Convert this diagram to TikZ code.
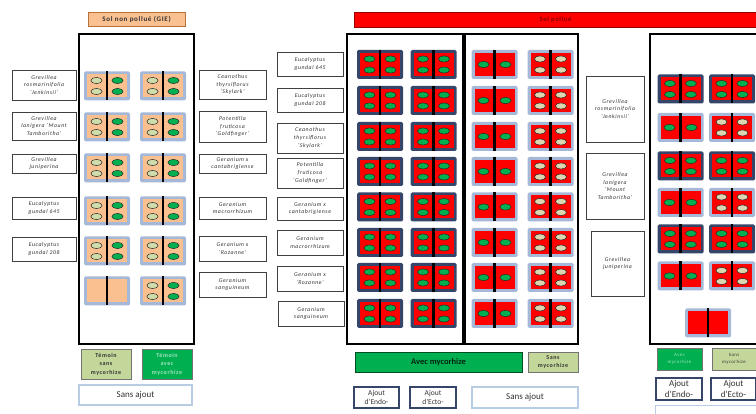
\documentclass[tikz,border=0pt]{standalone}
\usepackage{fontspec}
\setmainfont{Carlito}
\newfontfamily\lblfont[LetterSpace=10]{Carlito}
\definecolor{peach}{HTML}{FAC090}
\definecolor{peachbd}{HTML}{B7723A}
\definecolor{potred}{HTML}{FF0000}
\definecolor{dgreen}{HTML}{00B050}
\definecolor{lgreen}{HTML}{C4D79B}
\definecolor{elgreen}{HTML}{CFDDAA}
\definecolor{beige}{HTML}{DDD5B0}
\definecolor{navy}{HTML}{35466A}
\definecolor{lblue}{HTML}{A5B8D8}
\definecolor{sablue}{HTML}{B8CCE4}
\definecolor{txtgray}{HTML}{333333}
\newcommand\lbl[6]{\node[lblbox, minimum width={#4-#2}, minimum height={#5-#3}] (#1) at ({(#2+#4)/2},{(#3+#5)/2}) {#6};}
\tikzset{
  pics/pot/.style args={#1/#2}{code={
    \fill[#1, rounded corners=1.5] (-23,-14.5) rectangle (23,14.5);
    \fill[#2] (-20,-11.5) rectangle (20,11.5);
    \draw[line width=2.6] (0,-14.5) -- (0,14.5);
  }},
  pics/four/.style args={#1/#2}{code={
    \filldraw[fill=#1, draw=black!85, line width=0.5] (-10.5,-5.5) ellipse [x radius=5.6, y radius=3.1];
    \filldraw[fill=#1, draw=black!85, line width=0.5] (-10.5,5.5) ellipse [x radius=5.6, y radius=3.1];
    \filldraw[fill=#2, draw=black!85, line width=0.5] (10.5,-5.5) ellipse [x radius=5.6, y radius=3.1];
    \filldraw[fill=#2, draw=black!85, line width=0.5] (10.5,5.5) ellipse [x radius=5.6, y radius=3.1];
  }},
  pics/two/.style={code={
    \filldraw[fill=dgreen, draw=black!85, line width=0.5] (-11,0) ellipse [x radius=5.6, y radius=3.2];
    \filldraw[fill=dgreen, draw=black!85, line width=0.5] (11,0) ellipse [x radius=5.6, y radius=3.2];
  }},
  lblbox/.style={draw=black!75, line width=0.6, fill=white, align=center, inner sep=0,
    text=txtgray, font=\lblfont\itshape\fontsize{5.8}{7.6}\selectfont},
  frame/.style={draw=black, line width=1.3},
  smallbold/.style={align=center, inner sep=0, font=\lblfont\bfseries\fontsize{6}{8.5}\selectfont},
  ajout/.style={draw=navy, line width=1.1, fill=white, align=center, inner sep=0, text=txtgray},
  sansaj/.style={draw=sablue, line width=1.3, fill=white, align=center, inner sep=0, text=txtgray},
}
\begin{document}
\begin{tikzpicture}[x=1pt,y=-1pt]
\useasboundingbox (0,0) rectangle (756,414);
\clip (0,0) rectangle (756,414);

% ---------- left: unpolluted soil ----------
\node[draw=peachbd, line width=0.8, fill=peach, minimum width=97, minimum height=14, inner sep=0,
  font=\lblfont\bfseries\fontsize{7}{8}\selectfont, text=txtgray] (tnp) at (136.5,19) {Sol non pollué (GIE)};
\draw[frame] (79,34) rectangle (194,344);
\foreach \r in {86,127,168,211,251}{
  \pic at (107,\r) {pot=lblue/peach};
  \pic at (107,\r) {four=elgreen/dgreen};
}
\pic at (107,291) {pot=lblue/peach};
\foreach \r in {86,127,168,211,251,291}{
  \pic at (163,\r) {pot=lblue/peach};
  \pic at (163,\r) {four=elgreen/dgreen};
}
\lbl{g1}{12}{70}{76}{100}{Grevillea\\rosmarinifolia\\‘Jenkinsii’}
\lbl{g2}{12}{112}{76}{140}{Grevillea\\lanigera ‘Mount\\Tamboritha’}
\lbl{g3}{12}{154}{76}{173}{Grevillea\\juniperina}
\lbl{g4}{12}{197}{76}{219}{Eucalyptus\\gundal 645}
\lbl{g5}{12}{237}{76}{261}{Eucalyptus\\gundal 208}

\node[smallbold, draw=black!55, line width=0.8, fill=lgreen, minimum width=50, minimum height=30, text=txtgray] (ts) at (106,364) {Témoin\\sans\\mycorhize};
\node[smallbold, draw=black!55, line width=0.8, fill=dgreen, minimum width=50, minimum height=30, text=dgreen!35!white] (ta) at (167,364) {Témoin\\avec\\mycorhize};
\node[sansaj, minimum width=113, minimum height=20, font=\fontsize{9}{10}\selectfont] (sa1) at (135.5,395) {Sans ajout};

% ---------- middle labels ----------
\lbl{a1}{199}{70}{266}{99}{Ceanothus\\thyrsiflorus\\‘Skylark’}
\lbl{a2}{199}{111}{266}{142}{Potentilla\\fruticosa\\‘Goldfinger’}
\lbl{a3}{199}{154}{266}{173}{Geranium x\\cantabrigiense}
\lbl{a4}{199}{197}{266}{219}{Geranium\\macrorrhizum}
\lbl{a5}{199}{236}{266}{261}{Geranium x\\‘Rozanne’}
\lbl{a6}{199}{272}{266}{297}{Geranium\\sanguineum}

\lbl{b1}{277}{52}{343}{76}{Eucalyptus\\gundal 645}
\lbl{b2}{277}{88}{343}{112}{Eucalyptus\\gundal 208}
\lbl{b3}{277}{123}{343}{153}{Ceanothus\\thyrsiflorus\\‘Skylark’}
\lbl{b4}{277}{158}{343}{188}{Potentilla\\fruticosa\\‘Goldfinger’}
\lbl{b5}{277}{197}{343}{220}{Geranium x\\cantabrigiense}
\lbl{b6}{277}{230}{343}{255}{Geranium\\macrorrhizum}
\lbl{b7}{277}{266}{343}{291}{Geranium x\\‘Rozanne’}
\lbl{b8}{278}{301}{344}{326}{Geranium\\sanguineum}

% ---------- polluted soil ----------
\node[draw=red!60!black, line width=0.8, fill=potred, minimum width=403, minimum height=15, inner sep=0,
  font=\lblfont\bfseries\fontsize{6.5}{8}\selectfont, text=red!50!black] (tp) at (555.5,19.5) {Sol pollué};
\draw[frame] (347,34) rectangle (463,344);
\draw[frame] (465,34) rectangle (578,344);
\draw[frame] (650,34) rectangle (780,344);

\foreach \r in {64.5,100.5,136.5,171.5,207,242.5,277.5,313.5}{
  \pic at (380,\r) {pot=navy/potred};
  \pic at (380,\r) {four=dgreen/dgreen};
  \pic at (433.5,\r) {pot=navy/potred};
  \pic at (433.5,\r) {four=dgreen/dgreen};
  \pic at (494.5,\r) {pot=lblue/potred};
  \pic at (494.5,\r) {two};
  \pic at (550.5,\r) {pot=lblue/potred};
  \pic at (550.5,\r) {four=beige/beige};
}

\lbl{r1}{586}{76}{644}{142}{Grevillea\\rosmarinifolia\\‘Jenkinsii’}
\lbl{r2}{586}{153}{644}{219}{Grevillea\\lanigera\\‘Mount\\Tamboritha’}
\lbl{r3}{591}{231}{644}{296}{Grevillea\\juniperina}

\foreach \r in {89,166,239}{
  \pic at (680.5,\r) {pot=navy/potred};
  \pic at (680.5,\r) {four=dgreen/dgreen};
  \pic at (732,\r) {pot=navy/potred};
  \pic at (732,\r) {four=dgreen/dgreen};
}
\foreach \r in {127.5,202.5,276}{
  \pic at (680.5,\r) {pot=lblue/potred};
  \pic at (680.5,\r) {two};
  \pic at (732,\r) {pot=lblue/potred};
  \pic at (732,\r) {four=beige/beige};
}
\pic at (708,323) {pot=lblue/potred};

% ---------- bottom centre ----------
\node[draw=black!55!dgreen, line width=0.8, fill=dgreen, minimum width=167, minimum height=20, inner sep=0,
  font=\bfseries\fontsize{8.5}{10}\selectfont, text=black!80!dgreen] (am) at (438.5,362) {Avec mycorhize};
\node[smallbold, draw=black!55, line width=0.8, fill=lgreen, minimum width=50, minimum height=20, text=txtgray] (sm) at (553,362) {Sans\\mycorhize};
\node[ajout, minimum width=45, minimum height=21, font=\fontsize{7.5}{9.5}\selectfont] (en1) at (376.5,397.5) {Ajout\\d’Endo-};
\node[ajout, minimum width=46, minimum height=21, font=\fontsize{7.5}{9.5}\selectfont] (ec1) at (433,397.5) {Ajout\\d’Ecto-};
\node[sansaj, minimum width=106, minimum height=21, font=\fontsize{9}{10}\selectfont] (sa2) at (525,397.5) {Sans ajout};

% ---------- bottom right ----------
\node[draw=black!55, line width=0.8, fill=dgreen, minimum width=45, minimum height=22, inner sep=0, align=center,
  font=\lblfont\fontsize{4.8}{7}\selectfont, text=dgreen!35!white] (am2) at (679.5,359) {Avec\\mycorhize};
\node[draw=black!55, line width=0.8, fill=lgreen, minimum width=44, minimum height=22, inner sep=0, align=center,
  font=\lblfont\fontsize{4.8}{7}\selectfont, text=txtgray] (sm2) at (734,359) {Sans\\mycorhize};
\node[ajout, minimum width=46, minimum height=22, font=\fontsize{9}{10.5}\selectfont] (en2) at (679,389) {Ajout\\d’Endo-};
\node[ajout, minimum width=45, minimum height=22, font=\fontsize{9}{10.5}\selectfont] (ec2) at (733.5,389) {Ajout\\d’Ecto-};
\node[sansaj, minimum width=101, minimum height=16, anchor=north west] (sa3) at (655,405) {};
\end{tikzpicture}
\end{document}
